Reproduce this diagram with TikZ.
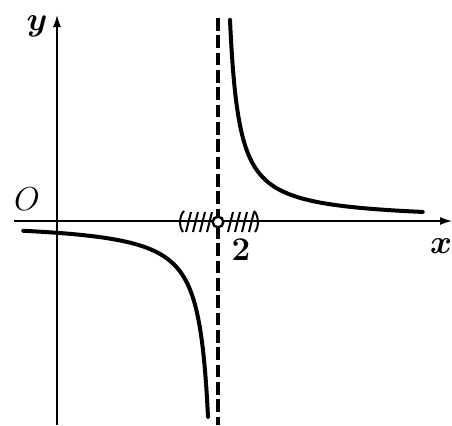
\documentclass[tikz,border=0pt]{standalone}
\usepackage{bm}
\usetikzlibrary{arrows.meta}
\begin{document}
\begin{tikzpicture}[x=0.75pt,y=-0.75pt,
  axis/.style={line width=1.1pt},
  curve/.style={line width=3pt,line cap=round},
  asym/.style={line width=2.7pt,dash pattern=on 9.5pt off 3.5pt},
  hatch/.style={line width=1.5pt},
  lbl/.style={font=\fontsize{27}{27}\selectfont,inner sep=0pt}]
\useasboundingbox (0,0) rectangle (452,425);
% axes
\coordinate (xs) at (14,221);
\coordinate (xe) at (452,221);
\coordinate (ys) at (57,425);
\coordinate (ye) at (57,15);
\draw[axis,-{Latex[length=9pt,width=6pt]}] (xs) -- (xe);
\draw[axis,-{Latex[length=9pt,width=6pt]}] (ys) -- (ye);
% asymptote
\coordinate (at) at (218,18);
\coordinate (ab) at (218,425);
\draw[asym] (at) -- (ab);
% branches
\draw[curve] plot[domain=0:1,samples=160,variable=\t]
  ({218+12*exp(2.838*\t)},{221-1830/(12*exp(2.838*\t)-2.9)});
\draw[curve] plot[domain=0:1,samples=160,variable=\t]
  ({218-10*exp(2.9704*\t)},{221+1900/(10*exp(2.9704*\t)-0.3)});
% hatched neighbourhood
\draw[hatch] (184,211) .. controls (179,216) and (179,227) .. (183,232);
\draw[hatch] (254,211) .. controls (259,216) and (259,227) .. (255,232);
\foreach \u in {186,193,200,207,228,235,242,249}
  \draw[hatch] (\u,232) -- (\u+5,212);
\node[circle,draw,line width=1.8pt,fill=white,minimum size=8pt,inner sep=0pt] (hole) at (218,222) {};
% labels
\node[lbl] (ylab) at (37,26) {$\bm{y}$};
\node[lbl] (olab) at (27,199) {$O$};
\node[lbl] (xlab) at (441,246) {$\bm{x}$};
\node[lbl] (two) at (241,250) {$\mathbf{2}$};
\end{tikzpicture}
\end{document}
